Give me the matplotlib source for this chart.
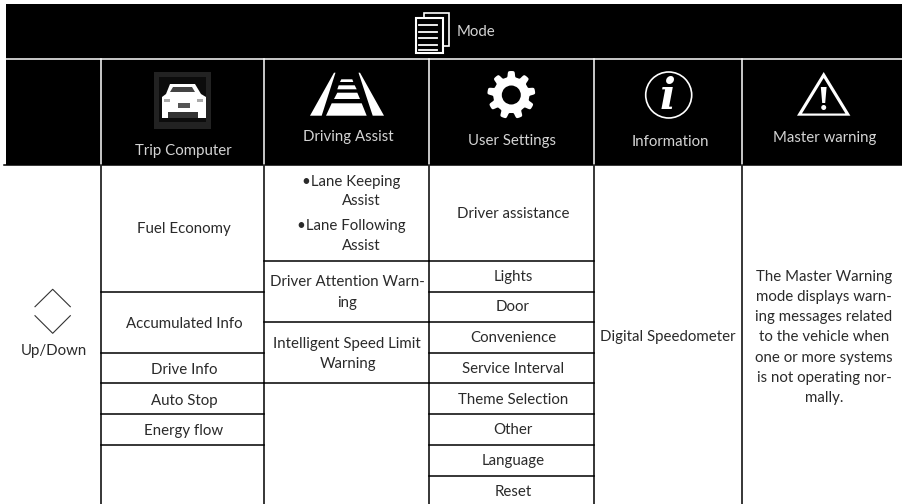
import numpy as np
import matplotlib
matplotlib.use('Agg')
import matplotlib.pyplot as plt
from matplotlib.patches import Rectangle, Polygon, Circle

plt.rcParams['font.family'] = ['Lato', 'DejaVu Sans']

# textos de la tabla
mode_label = 'Mode'
headers = ['Trip Computer', 'Driving Assist', 'User Settings', 'Information', 'Master warning']
updown_label = 'Up/Down'
trip_items = ['Fuel Economy', 'Accumulated Info', 'Drive Info', 'Auto Stop', 'Energy flow']
assist_items = ['•Lane Keeping', 'Assist', '•Lane Following', 'Assist',
                'Driver Attention Warn-', 'ing', 'Intelligent Speed Limit', 'Warning']
settings_items = ['Driver assistance', 'Lights', 'Door', 'Convenience', 'Service Interval',
                  'Theme Selection', 'Other', 'Language', 'Reset']
info_item = 'Digital Speedometer'
master_lines = ['The Master Warning', 'mode displays warn-', 'ing messages related',
                'to the vehicle when', 'one or more systems', 'is not operating nor-', 'mally.']

# layout en pixeles de la imagen
col_x = [100.7, 263.7, 428.7, 594, 742]
header_x = [183, 348, 512, 670, 825]
header_y = [151, 137.5, 141.5, 142.5, 138]
trip_y = [229.5, 323.5, 369.5, 400.5, 430.5]
assist_x = [351, 361, 351, 361, 347, 347, 347, 348]
assist_y = [182, 201, 226, 246, 282, 303, 344, 364]
settings_y = [214, 277, 307, 338, 369, 400, 430, 461, 492]
master_y = [277, 297, 317, 337, 358, 378, 398]
trip_rules = [291.5, 352.5, 383, 414, 445]
assist_rules = [261, 322, 383]
settings_rules = [261, 291.5, 322, 352.5, 383, 414, 445, 476]

fig = plt.figure(figsize=(9.02, 5.04), dpi=100)
ax = fig.add_axes([0, 0, 1, 1])
ax.set_xlim(0, 902)
ax.set_ylim(504, 0)
ax.axis('off')

FS = 10.8
TXT = '#2a2a2a'
HEAD = '#d4d4d4'
LW = 1.1

# bandas negras
ax.add_patch(Rectangle((6, 4), 896, 161, color='black', lw=0))
ax.plot([6, 902], [58.5, 58.5], color='white', lw=LW)
ax.plot([4, 902], [165, 165], color='black', lw=LW)
for x in col_x:
    ax.plot([x, x], [59, 165], color='white', lw=LW)
    ax.plot([x, x], [165, 504], color='black', lw=LW)

for y in trip_rules:
    ax.plot([col_x[0], col_x[1]], [y, y], color='black', lw=LW)
for y in assist_rules:
    ax.plot([col_x[1], col_x[2]], [y, y], color='black', lw=LW)
for y in settings_rules:
    ax.plot([col_x[2], col_x[3]], [y, y], color='black', lw=LW)

# icono de Mode
ax.add_patch(Rectangle((423.5, 12.5), 25, 33, fc='black', ec='white', lw=1.2))
ax.add_patch(Rectangle((415.5, 17.5), 27.5, 35.5, fc='black', ec='white', lw=1.5))
for y in [25, 31.5, 38, 44.5, 50]:
    ax.plot([419, 437], [y, y], color='white', lw=1.3)
ax.text(457, 32.5, mode_label, color=HEAD, fontsize=FS, va='center', ha='left')

# icono del coche
ax.add_patch(Rectangle((154, 72), 57, 57, color='#222222', lw=0))
ax.add_patch(Rectangle((159, 77), 47, 45, color='#0c0c0c', lw=0))
ax.add_patch(Polygon([[170, 84], [195, 84], [201, 94], [206, 97], [206, 118], [162, 118], [162, 97], [166, 94]],
                     color='white', lw=0))
ax.add_patch(Polygon([[173, 87], [192, 87], [195, 92], [170, 92]], color='#444444', lw=0))
ax.add_patch(Rectangle((178, 103), 12, 5, color='#555555', lw=0))
ax.add_patch(Rectangle((168, 112), 30, 6, color='#333333', lw=0))
ax.add_patch(Rectangle((164, 99), 6, 3, color='#aaaaaa', lw=0))
ax.add_patch(Rectangle((197, 99), 6, 3, color='#aaaaaa', lw=0))

# icono de carriles
ax.add_patch(Polygon([[310, 115.7], [334, 72.7], [335.5, 72.7], [321.7, 115.7]], color='white', lw=0))
ax.add_patch(Polygon([[358.5, 72.7], [360, 72.7], [384, 115.7], [372.7, 115.7]], color='white', lw=0))
ax.add_patch(Polygon([[326, 115.7], [366.7, 115.7], [361.7, 103.3], [331.7, 103.3]], color='white', lw=0))
ax.add_patch(Polygon([[334, 99], [360, 99], [357.3, 92.7], [337.3, 92.7]], color='white', lw=0))
ax.add_patch(Polygon([[337.3, 89.3], [356.7, 89.3], [354.7, 85.3], [338.7, 85.3]], color='white', lw=0))
ax.add_patch(Polygon([[340, 82], [353.3, 82], [352.3, 79.3], [341.3, 79.3]], color='white', lw=0))

# icono del engranaje
ang = np.linspace(0, 2 * np.pi, 289)
rad = 21 + 3 * np.tanh(3 * np.cos(9 * ang))
ax.add_patch(Polygon(np.c_[511.3 + rad * np.sin(ang), 95 - rad * np.cos(ang)], color='white', lw=0))
ax.add_patch(Circle((511.3, 95), 9.5, color='black', lw=0))

# icono de informacion
ax.add_patch(Circle((668.7, 95), 23, fc='black', ec='white', lw=1.2))
ax.text(668, 97, 'i', color='white', family='DejaVu Serif', style='italic', weight='bold',
        fontsize=30, ha='center', va='center')

# icono de aviso
ax.add_patch(Polygon([[823.7, 72], [797, 115.7], [850.4, 115.7]], color='white', lw=0))
ax.add_patch(Polygon([[823.7, 78], [802, 113.5], [845.4, 113.5]], color='black', lw=0))
ax.add_patch(Polygon([[820.8, 87], [826.6, 87], [825.2, 103], [822.2, 103]], color='white', lw=0))
ax.add_patch(Circle((823.7, 107.5), 2.5, color='white', lw=0))

# flechas
ax.plot([35, 52.7, 70.3], [306.7, 289.3, 306.7], color='#333333', lw=0.8)
ax.plot([35, 52.7, 70.3], [315.7, 333.3, 315.7], color='#333333', lw=0.8)
ax.text(54, 351.5, updown_label, color=TXT, fontsize=FS, ha='center', va='center')

for lab, x, y in zip(headers, header_x, header_y):
    ax.text(x, y, lab, color=HEAD, fontsize=FS, ha='center', va='center')
for lab, y in zip(trip_items, trip_y):
    ax.text(184, y, lab, color=TXT, fontsize=FS, ha='center', va='center')
for lab, x, y in zip(assist_items, assist_x, assist_y):
    ax.text(x, y, lab, color=TXT, fontsize=FS, ha='center', va='center')
for lab, y in zip(settings_items, settings_y):
    ax.text(513, y, lab, color=TXT, fontsize=FS, ha='center', va='center')
ax.text(668, 337.5, info_item, color=TXT, fontsize=FS, ha='center', va='center')
for lab, y in zip(master_lines, master_y):
    ax.text(824, y, lab, color=TXT, fontsize=FS, ha='center', va='center')

fig.savefig('out.png', dpi=100)
